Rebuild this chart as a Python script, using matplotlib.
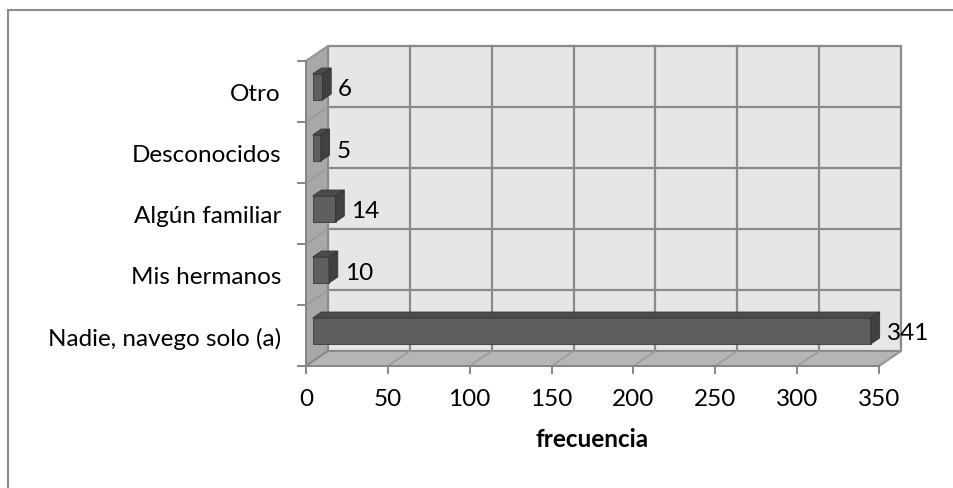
import matplotlib
matplotlib.use("Agg")
import matplotlib.pyplot as plt
from matplotlib.patches import Polygon
from matplotlib.lines import Line2D

# ---- datos ----
categorias = ["Nadie, navego solo (a)", "Mis hermanos", "Algún familiar",
              "Desconocidos", "Otro"]
frecuencia = [341, 10, 14, 5, 6]
xticks = [0, 50, 100, 150, 200, 250, 300, 350]

plt.rcParams['font.family'] = ['Lato', 'DejaVu Sans']
FS = 17.5

W, H = 954, 489
fig = plt.figure(figsize=(W / 100, H / 100), dpi=100)
# plano frontal del grafico (en pixeles)
L, R, T, B = 306, 879, 62, 367
ax = fig.add_axes([L / W, (H - B) / H, (R - L) / W, (B - T) / H])
ax.patch.set_visible(False)

xmax = xticks[-1]
n = len(categorias)
ax.set_xlim(0, xmax)
ax.set_ylim(-0.5, n - 0.5)

# profundidad 3D en unidades de datos
px_x = (R - L) / xmax
px_y = (B - T) / n
ddx = 22 / px_x
ddy = 15 / px_y

grid_c = '#8a8a8a'
y0, y1 = -0.5, n - 0.5

# paredes
back = Polygon([(ddx, y0 + ddy), (xmax + ddx, y0 + ddy), (xmax + ddx, y1 + ddy), (ddx, y1 + ddy)],
               closed=True, facecolor='#e6e6e6', edgecolor=grid_c, lw=1.6, zorder=0.5, clip_on=False)
left = Polygon([(0, y0), (ddx, y0 + ddy), (ddx, y1 + ddy), (0, y1)],
               closed=True, facecolor='#a8a8a8', edgecolor=grid_c, lw=1.4, zorder=0.6, clip_on=False)
floor = Polygon([(0, y0), (xmax, y0), (xmax + ddx, y0 + ddy), (ddx, y0 + ddy)],
                closed=True, facecolor='#b5b5b5', edgecolor=grid_c, lw=1.4, zorder=0.6, clip_on=False)
for p in (back, left, floor):
    ax.add_patch(p)

# lineas de cuadricula
for xv in xticks[1:-1]:
    ax.plot([xv + ddx, xv + ddx], [y0 + ddy, y1 + ddy], color=grid_c, lw=1.6, zorder=0.7, clip_on=False)
for xv in xticks[1:]:
    ax.plot([xv, xv + ddx], [y0, y0 + ddy], color='#999999', lw=1.1, zorder=0.7, clip_on=False)
for k in range(n):
    yv = k + 0.5
    if k < n - 1:
        ax.plot([ddx, xmax + ddx], [yv + ddy, yv + ddy], color=grid_c, lw=1.6, zorder=0.7, clip_on=False)
    ax.plot([0, ddx], [yv, yv + ddy], color='#999999', lw=1.1, zorder=0.7, clip_on=False)

# barras 3D
h = 0.426
fx, fy = 0.3 * ddx, 0.3 * ddy
dx, dy = 0.4 * ddx, 0.4 * ddy
for i, v in enumerate(frecuencia):
    xa, xb = fx, v + fx
    ya, yb = i - h / 2 + fy, i + h / 2 + fy
    ax.add_patch(Polygon([(xa, ya), (xb, ya), (xb, yb), (xa, yb)], closed=True,
                         facecolor='#5e5e5e', edgecolor='#3a3a3a', lw=0.6, zorder=3, clip_on=False))
    ax.add_patch(Polygon([(xa, yb), (xb, yb), (xb + dx, yb + dy), (xa + dx, yb + dy)], closed=True,
                         facecolor='#4b4b4b', edgecolor='#3a3a3a', lw=0.6, zorder=3, clip_on=False))
    ax.add_patch(Polygon([(xb, ya), (xb + dx, ya + dy), (xb + dx, yb + dy), (xb, yb)], closed=True,
                         facecolor='#404040', edgecolor='#333333', lw=0.6, zorder=3, clip_on=False))
    ax.annotate(str(v), xy=(xb + dx, i + fy), xytext=(5, 0), textcoords='offset points',
                ha='left', va='center_baseline', fontsize=FS, color='black', zorder=4,
                annotation_clip=False)

# ejes
for s in ('top', 'right'):
    ax.spines[s].set_visible(False)
for s in ('left', 'bottom'):
    ax.spines[s].set_color('#868686')
    ax.spines[s].set_linewidth(1.4)
    ax.spines[s].set_zorder(2.5)

ax.set_xticks(xticks)
ax.set_xticklabels([str(t) for t in xticks], fontsize=FS)
ax.tick_params(axis='x', length=6, width=1.4, color='#868686', pad=10)

ax.set_yticks(range(n))
ax.set_yticklabels(categorias, fontsize=FS, va='center_baseline')
ax.set_yticks([k - 0.5 for k in range(n + 1)], minor=True)
ax.tick_params(axis='y', which='major', length=0, pad=18)
ax.tick_params(axis='y', which='minor', length=6.5, width=1.4, color='#868686')

ax.set_xlabel('frecuencia', fontsize=FS, fontweight='bold', labelpad=13)

# marco exterior
fig.add_artist(Line2D([8 / W, 8 / W], [0, (H - 11) / H], color='#8c8c8c', lw=1.5))
fig.add_artist(Line2D([8 / W, 1], [(H - 11) / H, (H - 11) / H], color='#8c8c8c', lw=1.5))

fig.savefig('out.png', dpi=100)
